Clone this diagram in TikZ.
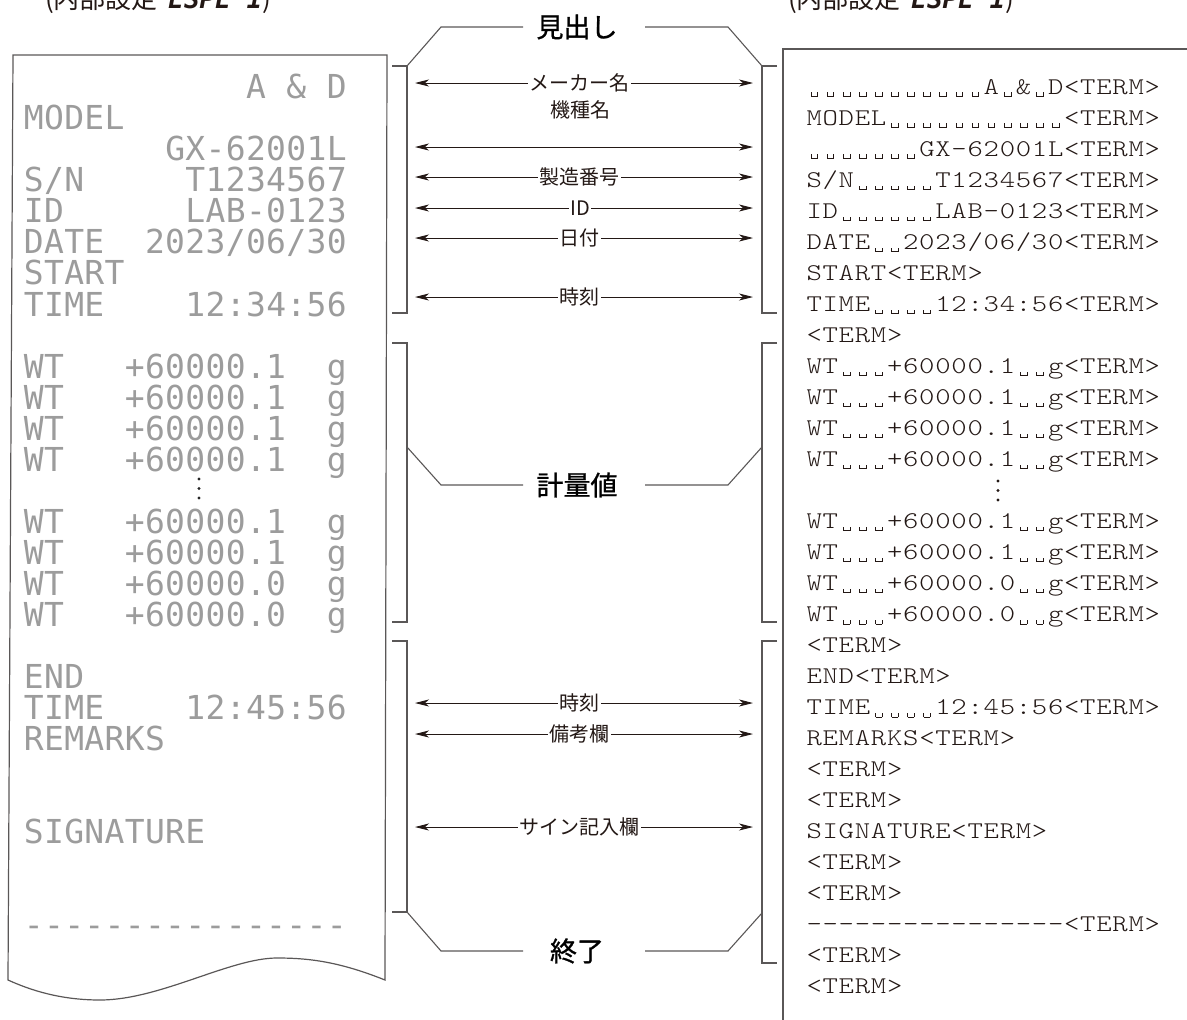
\documentclass[tikz,border=0pt]{standalone}
\usepackage{fontspec}
\usepackage{tikz}
\usetikzlibrary{arrows.meta, calc}
\definecolor{InkBrown}{HTML}{231815}
\definecolor{RuleGray}{HTML}{5A5757}
\definecolor{DotGray}{HTML}{9C9C9C}
\newfontfamily\jpfont{Noto Sans CJK JP}
\newfontfamily\jpbig[FakeBold=1]{Noto Sans CJK JP}
\newfontfamily\dotfont{DejaVu Sans Mono}
\newfontfamily\segfont{DejaVu Sans Mono}
\newfontfamily\termfont[FakeStretch=1.22]{lmmonolt10-regular.otf}
% fixed pitch cells for the printer lines
\newlength\cellw
\def\e{}
\newcommand\bk{\rule[-0.1em]{0.5pt}{0.17em}\rule[-0.1em]{0.26em}{0.5pt}\rule[-0.1em]{0.5pt}{0.17em}}
\def\spaced#1{\spacedi#1\relax}
\def\spacedi#1{\ifx#1\relax\else\makebox[\cellw]{#1}\expandafter\spacedi\fi}
\newcommand\lrow[1]{\setlength\cellw{20.2pt}\spaced{#1}}
\newcommand\rrow[1]{\setlength\cellw{16.1pt}\spaced{#1}}
\tikzset{
  paper/.style={RuleGray, line width=1.2pt},
  bracket/.style={RuleGray, line width=1.1pt},
  dimarrow/.style={InkBrown, line width=0.9pt,
    {Stealth[length=14pt,width=7pt,inset=4pt]}-{Stealth[length=14pt,width=7pt,inset=4pt]}},
  armlabel/.style={fill=white, inner sep=1.5pt, text=InkBrown,
    font=\jpfont\fontsize{20}{20}\selectfont},
  biglabel/.style={inner sep=0pt, text=black, font=\jpbig\fontsize{27}{27}\selectfont},
  lefttxt/.style={anchor=base west, inner sep=0pt, text=DotGray,
    font=\dotfont\fontsize{33}{33}\selectfont},
  righttxt/.style={anchor=base west, inner sep=0pt, text=InkBrown,
    font=\termfont\fontsize{24}{24}\selectfont},
  headtxt/.style={anchor=base west, inner sep=0pt, text=InkBrown,
    font=\jpfont\fontsize{26}{26}\selectfont}
}
\begin{document}
\begin{tikzpicture}[x=1pt, y=-1pt]
  \useasboundingbox (0,0) rectangle (1187,1020);
  % setting captions, cut by the top edge
  \node[headtxt] (setL) at (45,8) {(内部設定\hspace{0.4em}{\segfont\bfseries\itshape ESPE 1})};
  \node[headtxt] (setR) at (788,8) {(内部設定\hspace{0.4em}{\segfont\bfseries\itshape ESPE 1})};
  % printed paper
  \draw[paper] (13,55) -- (387,55) -- (385,980)
    .. controls (340,962) and (310,958) .. (277,958)
    .. controls (230,958) and (160,1000) .. (100,1000)
    .. controls (60,1000) and (30,990) .. (8,980) -- cycle;
  % output data panel
  \draw[paper] (1200,49) -- (783,49) -- (783,1030);
  % printer lines
  \foreach \row/\txt in {
    1/{\e\e\e\e\e\e\e\e\e\e\e A\e\&\e D},
    2/{MODEL},
    3/{\e\e\e\e\e\e\e GX-62001L},
    4/{S/N\e\e\e\e\e T1234567},
    5/{ID\e\e\e\e\e\e LAB-0123},
    6/{DATE\e\e 2023/06/30},
    7/{START},
    8/{TIME\e\e\e\e 12:34:56},
    10/{WT\e\e\e+60000.1\e\e g},
    11/{WT\e\e\e+60000.1\e\e g},
    12/{WT\e\e\e+60000.1\e\e g},
    13/{WT\e\e\e+60000.1\e\e g},
    15/{WT\e\e\e+60000.1\e\e g},
    16/{WT\e\e\e+60000.1\e\e g},
    17/{WT\e\e\e+60000.0\e\e g},
    18/{WT\e\e\e+60000.0\e\e g},
    20/{END},
    21/{TIME\e\e\e\e 12:45:56},
    22/{REMARKS},
    25/{SIGNATURE},
    28/{----------------}}
    \node[lefttxt] (L\row) at (23.5, {86.8+31.03*(\row-1)+12}) {\expandafter\lrow\expandafter{\txt}};
  % data lines
  \foreach \row/\txt in {
    1/{\bk\bk\bk\bk\bk\bk\bk\bk\bk\bk\bk A\bk\&\bk D<TERM>},
    2/{MODEL\bk\bk\bk\bk\bk\bk\bk\bk\bk\bk\bk<TERM>},
    3/{\bk\bk\bk\bk\bk\bk\bk GX-62001L<TERM>},
    4/{S/N\bk\bk\bk\bk\bk T1234567<TERM>},
    5/{ID\bk\bk\bk\bk\bk\bk LAB-0123<TERM>},
    6/{DATE\bk\bk 2023/06/30<TERM>},
    7/{START<TERM>},
    8/{TIME\bk\bk\bk\bk 12:34:56<TERM>},
    9/{<TERM>},
    10/{WT\bk\bk\bk+60000.1\bk\bk g<TERM>},
    11/{WT\bk\bk\bk+60000.1\bk\bk g<TERM>},
    12/{WT\bk\bk\bk+60000.1\bk\bk g<TERM>},
    13/{WT\bk\bk\bk+60000.1\bk\bk g<TERM>},
    15/{WT\bk\bk\bk+60000.1\bk\bk g<TERM>},
    16/{WT\bk\bk\bk+60000.1\bk\bk g<TERM>},
    17/{WT\bk\bk\bk+60000.0\bk\bk g<TERM>},
    18/{WT\bk\bk\bk+60000.0\bk\bk g<TERM>},
    19/{<TERM>},
    20/{END<TERM>},
    21/{TIME\bk\bk\bk\bk 12:45:56<TERM>},
    22/{REMARKS<TERM>},
    23/{<TERM>},
    24/{<TERM>},
    25/{SIGNATURE<TERM>},
    26/{<TERM>},
    27/{<TERM>},
    28/{––––––––––––––––<TERM>},
    29/{<TERM>},
    30/{<TERM>}}
    \node[righttxt] (R\row) at (806, {86.8+31.03*(\row-1)+7.3}) {\expandafter\rrow\expandafter{\txt}};
  % omitted lines
  \foreach \dy in {0,9.5,19} {
    \fill[black!85] (199,{479+\dy}) circle (1.6pt);
    \fill[InkBrown] (998,{481+\dy}) circle (1.6pt);
  }
  % brackets
  \foreach \tp/\bt in {66/313, 343/622, 641/912}
    \draw[bracket] (392,\tp) -- (407,\tp) -- (407,\bt) -- (392,\bt);
  \foreach \tp/\bt in {66/313, 343/622, 641/963}
    \draw[bracket] (777,\tp) -- (762,\tp) -- (762,\bt) -- (777,\bt);
  % section labels
  \node[biglabel] (hdLabel) at (577,27) {見出し};
  \node[biglabel] (wtLabel) at (577,485) {計量値};
  \node[biglabel] (endLabel) at (577,951) {終了};
  \coordinate (hdL) at (523,27);  \coordinate (hdR) at (645,27);
  \coordinate (wtL) at (523,485); \coordinate (wtR) at (645,485);
  \coordinate (endL) at (523,951); \coordinate (endR) at (645,951);
  \draw[bracket] (407,66) -- (441,27) -- (hdL);
  \draw[bracket] (762,66) -- (728,27) -- (hdR);
  \draw[bracket] (407,447) -- (441,485) -- (wtL);
  \draw[bracket] (762,447) -- (728,485) -- (wtR);
  \draw[bracket] (407,912) -- (441,951) -- (endL);
  \draw[bracket] (762,913) -- (728,951) -- (endR);
  % item arrows
  \foreach \n/\y/\lab in {a1/83/メーカー名, a4/177/製造番号, a5/208/ID, a6/238/日付,
      a8/297/時刻, a21/703/時刻, a22/734/備考欄, a25/827/サイン記入欄} {
    \coordinate (\n-L) at (415,\y);
    \coordinate (\n-R) at (753,\y);
    \draw[dimarrow] (\n-L) -- node[armlabel, pos=0.488] (\n-T) {\lab} (\n-R);
  }
  \coordinate (a3-L) at (415,147);
  \coordinate (a3-R) at (753,147);
  \draw[dimarrow] (a3-L) -- (a3-R);
  \node[armlabel, fill=none] (a3-T) at (580,110) {機種名};
\end{tikzpicture}
\end{document}
